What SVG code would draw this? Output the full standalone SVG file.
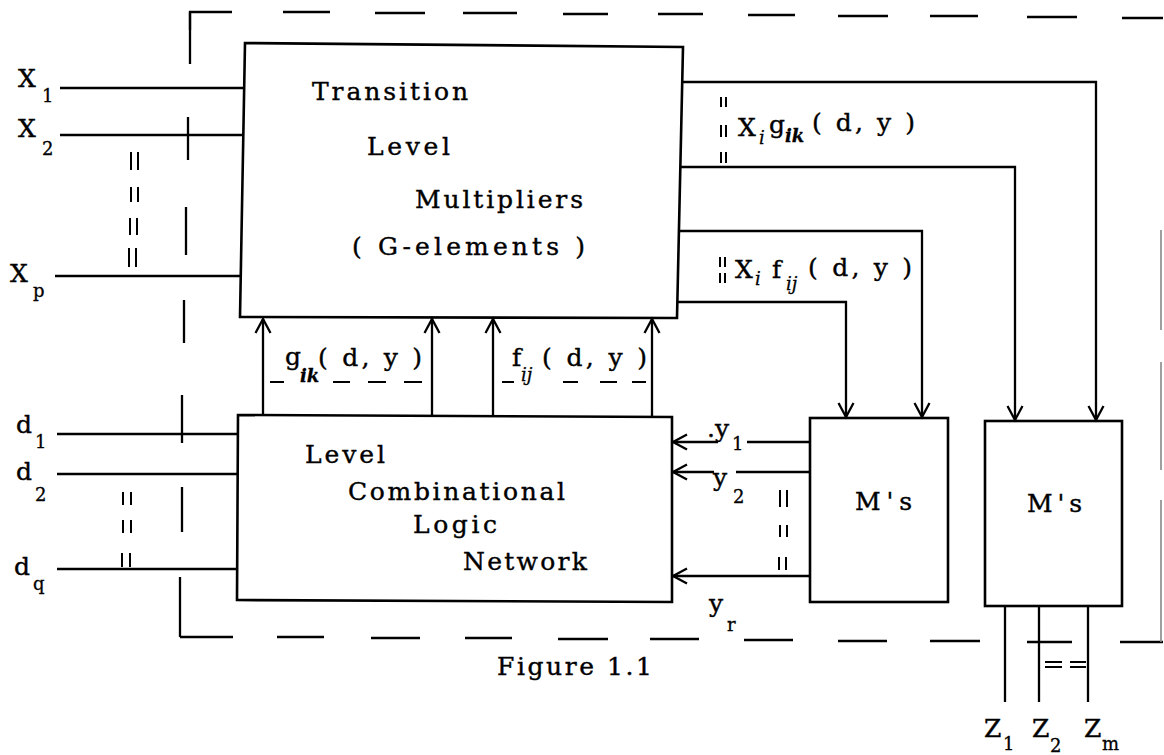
<svg xmlns="http://www.w3.org/2000/svg" width="1164" height="755" viewBox="0 0 1164 755">
<style>
.box{fill:none;stroke:#000;stroke-width:2.6}
.ln{fill:none;stroke:#000;stroke-width:2.3}
.tk{fill:none;stroke:#000;stroke-width:2}
.bd{fill:none;stroke:#000;stroke-width:2.3}
.t{font-family:"DejaVu Serif","Liberation Serif",serif;font-size:25px;fill:#000;stroke:#000;stroke-width:0.4}
.s{font-family:"DejaVu Serif","Liberation Serif",serif;font-size:18px;fill:#000;stroke:#000;stroke-width:0.3}
.i{font-style:italic}
.b{font-weight:bold}
</style>
<defs>
<marker id="ah" markerUnits="userSpaceOnUse" markerWidth="30" markerHeight="30" viewBox="-15 -15 30 30" refX="0" refY="0" orient="auto" overflow="visible">
<path d="M-14,-7.5 L0,0 L-14,7.5" fill="none" stroke="#000" stroke-width="2.3"/>
</marker>
</defs>
<rect width="1164" height="755" fill="#fff"/>

<g id="boundary">
<path class="bd" d="M190,30 V12 H232 M283,12 H330 M375,13 H425 M463,13 H517 M563,14 H608 M658,14 H703 M748,15 H795 M838,16 H888 M930,16 H978 M1027,17 H1077 M1122,18 H1163"/>
<path class="bd" d="M190,12 L190,64 M188,117 L188,160 M186,207 L186,255 M184,300 L184,343 M182,395 L182,443 M182,487 L182,532 M180,577 L180,637"/>
<path class="bd" d="M180,637 H233 M277,637 H324 M371,638 H420 M465,638 H512 M558,639 H608 M650,639 H699 M744,640 H793 M838,641 H887 M930,641 H980 M1027,642 H1072 M1120,642 H1163"/>
<path d="M1161,230 V330 M1161,362 V470 M1161,500 V642" fill="none" stroke="#888" stroke-width="1.6"/>
</g>

<g id="transition">
<path class="box" d="M245,43 L683,47 L677,318 L240,317 Z"/>
<text class="t" x="312" y="100" textLength="156">Transition</text>
<text class="t" x="367" y="155" textLength="83">Level</text>
<text class="t" x="415" y="208" textLength="168">Multipliers</text>
<text class="t" x="352" y="255" textLength="233">( G-elements )</text>
</g>

<g id="level">
<path class="box" d="M238,415 L672,417 L672,602 L237,600 Z"/>
<text class="t" x="305" y="463" textLength="80">Level</text>
<text class="t" x="348" y="500" textLength="217">Combinational</text>
<text class="t" x="413" y="533" textLength="84">Logic</text>
<text class="t" x="463" y="570" textLength="124">Network</text>
</g>

<g id="ms1">
<rect class="box" x="810" y="418" width="138" height="184"/>
<text class="t" x="855" y="510" textLength="57">M's</text>
</g>

<g id="ms2">
<rect class="box" x="985" y="421" width="137" height="185"/>
<text class="t" x="1027" y="512" textLength="55">M's</text>
</g>

<g id="connectors">
<path class="ln" d="M60,88 H244"/>
<path class="ln" d="M60,135 H243"/>
<path class="ln" d="M55,276 H241"/>
<path class="ln" d="M57,434 H238"/>
<path class="ln" d="M57,474 H238"/>
<path class="ln" d="M57,569 H238"/>
<path class="ln" d="M683,82 H1096 V420" marker-end="url(#ah)"/>
<path class="ln" d="M681,167 H1015 V420" marker-end="url(#ah)"/>
<path class="ln" d="M679,231 H922 V417" marker-end="url(#ah)"/>
<path class="ln" d="M678,302 H846 V417" marker-end="url(#ah)"/>
<path class="ln" d="M263,415 V319" marker-end="url(#ah)"/>
<path class="ln" d="M432,416 V319" marker-end="url(#ah)"/>
<path class="ln" d="M493,416 V319" marker-end="url(#ah)"/>
<path class="ln" d="M652,417 V319" marker-end="url(#ah)"/>
<path class="ln" d="M811,442 H747"/>
<path class="ln" d="M718,442 H673" marker-end="url(#ah)"/>
<path class="ln" d="M811,472 H736"/>
<path class="ln" d="M714,472 H673" marker-end="url(#ah)"/>
<path class="ln" d="M811,576 H673" marker-end="url(#ah)"/>
<path class="ln" d="M1005,606 V702 M1039,606 V702 M1088,606 V702"/>
</g>

<g id="ticks">
<path class="tk" d="M131,152 V170 M138,152 V170 M131,187 V202 M138,187 V202 M130,218 V235 M137,218 V235 M129,248 V267 M136,248 V267"/>
<path class="tk" d="M123,492 V505 M131,492 V505 M123,520 V533 M131,520 V533 M122,553 V567 M130,553 V567"/>
<path class="tk" d="M780,490 V507 M787,490 V507 M780,525 V537 M787,525 V537 M779,557 V570 M786,557 V570"/>
<path class="tk" d="M721,97 V107 M726,97 V107 M721,125 V137 M726,125 V137 M721,152 V163 M726,152 V163"/>
<path class="tk" d="M720,257 V267 M725,257 V267 M720,273 V283 M725,273 V283"/>
<path class="tk" d="M1045,662 H1062 M1045,667 H1062 M1070,662 H1086 M1070,667 H1086"/>
<path class="tk" d="M270,382 H284 M333,382 H350 M368,382 H386 M404,382 H422"/>
<path class="tk" d="M502,382 H514 M563,382 H578 M600,382 H617 M632,382 H646"/>
</g>

<g id="labels">
<text class="t" x="18" y="87" font-size="26">X</text><text class="s" x="42" y="102">1</text>
<text class="t" x="18" y="137" font-size="26">X</text><text class="s" x="42" y="155">2</text>
<text class="t" x="10" y="282" font-size="26">X</text><text class="s" x="33" y="297">p</text>
<text class="t" x="16" y="433" font-size="26">d</text><text class="s" x="35" y="448">1</text>
<text class="t" x="16" y="480" font-size="26">d</text><text class="s" x="35" y="501">2</text>
<text class="t" x="14" y="575" font-size="26">d</text><text class="s" x="33" y="590">q</text>

<text class="t" x="738" y="136">X</text><text class="s i" x="759" y="144">i</text><text class="t" x="769" y="133">g</text><text class="s i b" x="785" y="142">ik</text><text class="t" x="812" y="131" textLength="103">( d, y )</text>
<text class="t" x="735" y="278">X</text><text class="s i" x="755" y="285">i</text><text class="t" x="772" y="278">f</text><text class="s i" x="786" y="290">ij</text><text class="t" x="808" y="276" textLength="104">( d, y )</text>

<text class="t" x="285" y="365">g</text><text class="s i b" x="300" y="382">ik</text><text class="t" x="318" y="366" textLength="104">( d, y )</text>
<text class="t" x="512" y="366">f</text><text class="s i" x="521" y="381">ij</text><text class="t" x="542" y="366" textLength="105">( d, y )</text>

<text class="t" x="707" y="437">.y</text><text class="s" x="732" y="450">1</text>
<text class="t" x="713" y="486">y</text><text class="s" x="733" y="503">2</text>
<text class="t" x="709" y="612">y</text><text class="s" x="727" y="631">r</text>

<text class="t" x="984" y="737" font-size="26">Z</text><text class="s" x="1003" y="750">1</text>
<text class="t" x="1032" y="737" font-size="26">Z</text><text class="s" x="1050" y="752">2</text>
<text class="t" x="1084" y="737" font-size="26">Z</text><text class="s" x="1102" y="750">m</text>

<text class="t" x="497" y="675" textLength="155">Figure 1.1</text>
</g>
</svg>
